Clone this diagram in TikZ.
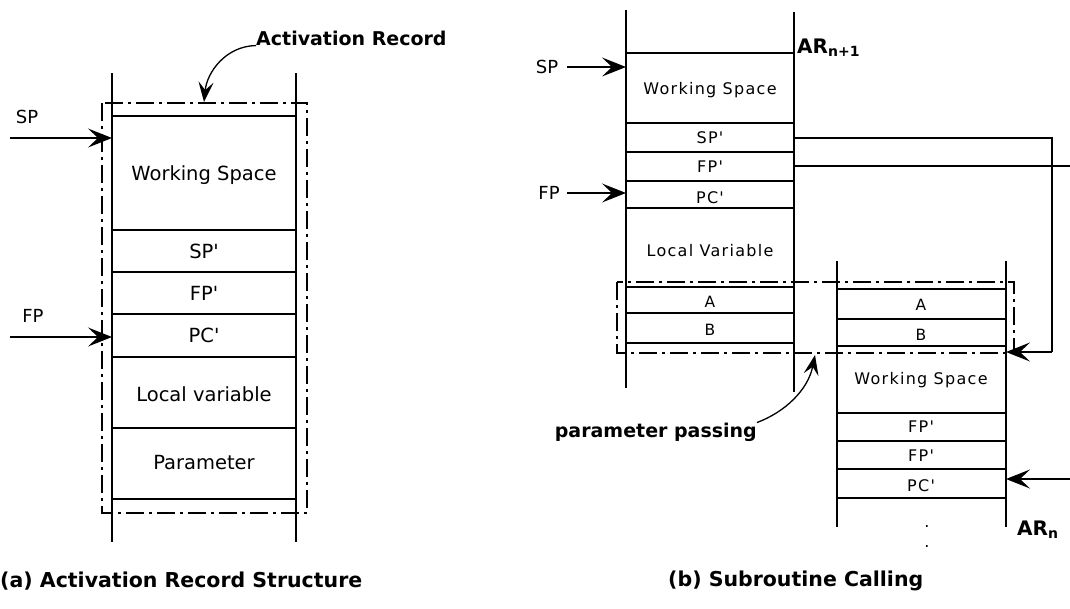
\documentclass[tikz,border=0pt]{standalone}
\usepackage{fontspec}
\setmainfont{DejaVu Sans}
\newfontfamily\rfont{DejaVu Sans}[LetterSpace=8]
\usetikzlibrary{arrows.meta}
\begin{document}
\begin{tikzpicture}[x=1pt,y=-1pt,
  stk/.style={line width=1.3pt},
  arr/.style={line width=1.3pt,-{Stealth[length=24pt,width=19pt,inset=10pt]}},
  carr/.style={line width=1.3pt,-{Stealth[length=20pt,width=15pt,inset=8pt]}},
  dd/.style={line width=1.2pt,dash pattern=on 18pt off 5pt on 3pt off 5pt},
  lcell/.style={font=\fontsize{19.5}{21}\selectfont,inner sep=0pt},
  rcell/.style={font=\rfont\fontsize{16}{18}\selectfont,inner sep=0pt},
  ab/.style={font=\fontsize{15.5}{17}\selectfont,inner sep=0pt},
  ptr/.style={font=\fontsize{18}{20}\selectfont,inner sep=0pt},
  bld/.style={font=\bfseries\fontsize{19}{21}\selectfont,inner sep=0pt},
  captext/.style={font=\bfseries\fontsize{20.5}{23}\selectfont,inner sep=0pt,anchor=west},
  arlab/.style={font=\bfseries\fontsize{20}{22}\selectfont,inner sep=0pt,anchor=base west}
]
\useasboundingbox (0,0) rectangle (1070,608);
% ---------- (a) left stack ----------
\draw[stk] (112,73) -- (112,542);
\draw[stk] (296,73) -- (296,542);
\foreach \y in {116,230,272,314,357,428,499} \draw[stk] (112,\y) -- (296,\y);
\node[lcell] (lws) at (204,175) {Working Space};
\node[lcell] (lsp) at (204,251) {SP\textquotesingle};
\node[lcell] (lfp) at (204,293) {FP\textquotesingle};
\node[lcell] (lpc) at (204,335) {PC\textquotesingle};
\node[lcell] (llv) at (204,394) {Local variable};
\node[lcell] (lpa) at (204,463) {Parameter};
\draw[dd] (102,103) rectangle (307,513);
\node[ptr] (lSP) at (27,117) {SP};
\node[ptr] (lFP) at (33,316) {FP};
\coordinate (lSPs) at (10,138);
\coordinate (lSPe) at (112,138);
\coordinate (lFPs) at (10,337);
\coordinate (lFPe) at (112,337);
\draw[arr] (lSPs) -- (lSPe);
\draw[arr] (lFPs) -- (lFPe);
\node[bld,anchor=west] (actrec) at (256,38) {Activation Record};
\coordinate (actend) at (204,102);
\draw[carr] (actrec.south west) .. controls (226,46) and (207,72) .. (actend);
\node[captext] (capa) at (0,581) {(a) Activation Record Structure};
% ---------- (b) stack n+1 ----------
\draw[stk] (626,10) -- (626,388);
\draw[stk] (794,12) -- (794,392);
\foreach \y in {53,123,152,181,208,287,313,343} \draw[stk] (626,\y) -- (794,\y);
\node[rcell] (ws1) at (710,90) {Working Space};
\node[rcell] (sp1) at (710,138) {SP'};
\node[rcell] (fp1) at (710,167) {FP'};
\node[rcell] (pc1) at (710,198) {PC'};
\node[rcell] (lv1) at (710,251) {Local Variable};
\node[ab] (a1) at (710,302) {A};
\node[ab] (b1) at (710,330) {B};
\node[arlab] (arn1) at (797,53) {AR\textsubscript{n+1}};
\node[ptr] (rSP) at (547,67) {SP};
\node[ptr] (rFP) at (549,193) {FP};
\coordinate (rSPs) at (567,67);
\coordinate (rSPe) at (626,67);
\coordinate (rFPs) at (567,193);
\coordinate (rFPe) at (626,193);
\draw[arr] (rSPs) -- (rSPe);
\draw[arr] (rFPs) -- (rFPe);
% ---------- (b) stack n ----------
\draw[stk] (837,261) -- (837,527);
\draw[stk] (1006,261) -- (1006,527);
\foreach \y in {289,319,346,413,441,469,498} \draw[stk] (837,\y) -- (1006,\y);
\node[ab] (a2) at (921,305) {A};
\node[ab] (b2) at (921,335) {B};
\node[rcell] (ws2) at (921,380) {Working Space};
\node[rcell] (fp2) at (921,427) {FP'};
\node[rcell] (fp3) at (921,456) {FP'};
\node[rcell] (pc2) at (921,486) {PC'};
\node[inner sep=0pt,font=\fontsize{16}{18}\selectfont] (dots) at (927,526) {.};
\node[inner sep=0pt,font=\fontsize{16}{18}\selectfont] (dots2) at (927,546) {.};
\node[arlab] (arn) at (1017,535) {AR\textsubscript{n}};
% parameter passing box
\draw[dd] (617,282) rectangle (1014,353);
% connectors
\coordinate (spo) at (794,138);
\coordinate (spc) at (1052,138);
\coordinate (spd) at (1052,352);
\coordinate (spt) at (1006,352);
\draw[line width=1.3pt] (spo) -- (spc) -- (spd);
\draw[arr] (spd) -- (spt);
\coordinate (fpo) at (794,166);
\coordinate (fpe) at (1070,166);
\draw[line width=1.3pt] (fpo) -- (fpe);
\coordinate (ins) at (1070,479);
\coordinate (ine) at (1006,479);
\draw[arr] (ins) -- (ine);
\node[bld,anchor=east] (pp) at (757,432) {parameter passing};
\coordinate (ppt) at (815,355);
\draw[carr] (pp.north east) .. controls (785,412) and (808,390) .. (ppt);
\node[captext] (capb) at (668,581) {(b) Subroutine Calling};
\end{tikzpicture}
\end{document}
